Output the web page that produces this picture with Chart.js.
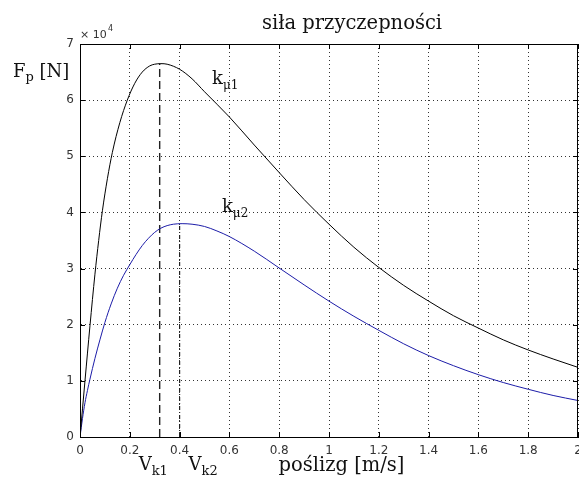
<!DOCTYPE html>
<html>
<head>
<meta charset="utf-8">
<script src="https://cdn.jsdelivr.net/npm/chart.js@4"></script>
<style>
  html, body { margin: 0; padding: 0; background: #fff; }
  #wrap { width: 579px; height: 479px; }
</style>
</head>
<body>
<div id="wrap"><canvas id="c" width="579" height="479"></canvas></div>
<script>
// Adhesion force vs. slip for two adhesion coefficients
const slip1 = [0, 0.02, 0.04, 0.06, 0.075, 0.09, 0.11, 0.13, 0.16, 0.19, 0.22, 0.25, 0.28, 0.3, 0.325, 0.35, 0.4, 0.45, 0.5, 0.6, 0.7, 0.8, 0.9, 1.0, 1.1, 1.2, 1.3, 1.4, 1.5, 1.6, 1.7, 1.8, 1.9, 2.0];
const fp1 = [0, 10000, 19800, 29000, 35000, 40300, 46000, 50700, 56000, 60000, 63000, 65000, 66100, 66400, 66500, 66400, 65500, 63800, 61500, 57000, 52000, 47100, 42300, 37900, 33800, 30200, 27000, 24200, 21600, 19400, 17300, 15500, 13900, 12400];

const slip2 = [0, 0.01, 0.02, 0.03, 0.04, 0.06, 0.08, 0.1, 0.125, 0.15, 0.175, 0.2, 0.225, 0.25, 0.275, 0.3, 0.325, 0.35, 0.375, 0.41, 0.45, 0.5, 0.55, 0.6, 0.7, 0.8, 0.9, 1.0, 1.1, 1.2, 1.3, 1.4, 1.5, 1.6, 1.7, 1.8, 1.9, 2.0];
const fp2 = [0, 3300, 6100, 8300, 10300, 14000, 17300, 20400, 23700, 26500, 28800, 30700, 32500, 34100, 35400, 36450, 37200, 37650, 37900, 38000, 37900, 37500, 36700, 35700, 33100, 30100, 27100, 24200, 21500, 19000, 16600, 14500, 12700, 11100, 9700, 8500, 7400, 6500];

// critical slip speeds and the peak forces they mark
const vCrit = [0.32, 0.40];
const fCrit = [66500, 38000];

const xTicks = [0, 0.2, 0.4, 0.6, 0.8, 1, 1.2, 1.4, 1.6, 1.8, 2];
const yTicks = [0, 10000, 20000, 30000, 40000, 50000, 60000, 70000];

const titleText = 'siła przyczepności';
const xLabel = 'poślizg [m/s]';

const toXY = (xs, ys) => xs.map((x, i) => ({ x: x, y: ys[i] }));

const SERIF = '"DejaVu Serif", "Liberation Serif", serif';
const SANS = '"DejaVu Sans", "Liberation Sans", sans-serif';

function subText(ctx, base, sub, x, y, size, subSize, drop) {
  ctx.font = size + 'px ' + SERIF;
  ctx.fillText(base, x, y);
  const w = ctx.measureText(base).width;
  ctx.font = subSize + 'px ' + SERIF;
  ctx.fillText(sub, x + w, y + drop);
  return x + w + ctx.measureText(sub).width;
}

const decor = {
  id: 'decor',
  afterDraw(chart) {
    const ctx = chart.ctx;
    const a = chart.chartArea;
    const xs = chart.scales.x, ys = chart.scales.y;
    ctx.save();
    // box frame
    ctx.strokeStyle = '#000';
    ctx.lineWidth = 1;
    ctx.setLineDash([]);
    ctx.strokeRect(a.left + 0.5, a.top + 0.5, a.right - a.left - 1, a.bottom - a.top);
    // inward tick marks on all four sides
    ctx.beginPath();
    xTicks.forEach(v => {
      const px = Math.round(xs.getPixelForValue(v)) + 0.5;
      ctx.moveTo(px, a.bottom); ctx.lineTo(px, a.bottom - 5);
      ctx.moveTo(px, a.top); ctx.lineTo(px, a.top + 5);
    });
    yTicks.forEach(v => {
      const py = Math.round(ys.getPixelForValue(v)) + 0.5;
      ctx.moveTo(a.left, py); ctx.lineTo(a.left + 5, py);
      ctx.moveTo(a.right, py); ctx.lineTo(a.right - 5, py);
    });
    ctx.stroke();

    ctx.fillStyle = '#111';
    ctx.textBaseline = 'alphabetic';

    // title and x-axis label
    ctx.font = '19.5px ' + SERIF;
    ctx.textAlign = 'center';
    ctx.fillText(titleText, 352, 29);
    ctx.fillText(xLabel, 341.5, 471);
    ctx.textAlign = 'left';

    // exponent marker
    ctx.fillStyle = '#333';
    ctx.font = '11px ' + SANS;
    ctx.fillText('× 10', 80, 38);
    ctx.font = '8px ' + SANS;
    ctx.fillText('4', 108, 31);
    ctx.fillStyle = '#111';

    // y-axis label
    const e = subText(ctx, 'F', 'p', 13, 77, 18, 13, 4);
    ctx.font = '18px ' + SERIF;
    ctx.fillText(' [N]', e, 77);

    // curve labels
    subText(ctx, 'k', 'μ1', xs.getPixelForValue(0.53), ys.getPixelForValue(62800), 18, 12, 5);
    subText(ctx, 'k', 'μ2', xs.getPixelForValue(0.57), ys.getPixelForValue(40000), 18, 12, 5);

    // critical slip labels under the axis
    subText(ctx, 'V', 'k1', xs.getPixelForValue(vCrit[0]) - 21, 470, 18, 13, 5);
    subText(ctx, 'V', 'k2', xs.getPixelForValue(vCrit[1]) + 9, 470, 18, 13, 5);
    ctx.restore();
  }
};

new Chart(document.getElementById('c'), {
  type: 'scatter',
  data: {
    datasets: [
      {
        data: toXY(slip1, fp1),
        showLine: true, borderColor: '#000', borderWidth: 1,
        pointRadius: 0, cubicInterpolationMode: 'monotone', order: 1
      },
      {
        data: toXY(slip2, fp2),
        showLine: true, borderColor: '#1c1ca8', borderWidth: 1,
        pointRadius: 0, cubicInterpolationMode: 'monotone', order: 1
      },
      {
        data: [{ x: vCrit[0], y: 0 }, { x: vCrit[0], y: fCrit[0] }],
        showLine: true, borderColor: '#222', borderWidth: 1.4,
        borderDash: [8, 4], pointRadius: 0, order: 2
      },
      {
        data: [{ x: vCrit[1], y: 0 }, { x: vCrit[1], y: fCrit[1] }],
        showLine: true, borderColor: '#222', borderWidth: 1.2,
        borderDash: [4, 2, 1, 2], pointRadius: 0, order: 2
      }
    ]
  },
  options: {
    responsive: false,
    animation: false,
    devicePixelRatio: 1,
    layout: { padding: { left: 0, right: 1, top: 44, bottom: 0 } },
    plugins: { legend: { display: false }, tooltip: { enabled: false }, title: { display: false } },
    scales: {
      x: {
        type: 'linear', min: 0, max: 2,
        afterFit: s => { s.height = 42; s.paddingLeft = 0; s.paddingRight = 0; },
        afterBuildTicks: s => { s.ticks = xTicks.map(v => ({ value: v })); },
        grid: { color: '#333', lineWidth: 1, drawTicks: false },
        border: { display: true, color: '#000', dash: [1, 3] },
        ticks: {
          padding: 7, color: '#333', font: { family: SANS, size: 12 },
          maxRotation: 0, autoSkip: false,
          callback: v => String(v)
        }
      },
      y: {
        type: 'linear', min: 0, max: 70000,
        afterFit: s => { s.width = 80; s.paddingTop = 0; s.paddingBottom = 0; },
        afterBuildTicks: s => { s.ticks = yTicks.map(v => ({ value: v })); },
        grid: { color: '#333', lineWidth: 1, drawTicks: false },
        border: { display: true, color: '#000', dash: [1, 3] },
        ticks: {
          padding: 6, color: '#333', font: { family: SANS, size: 12 },
          autoSkip: false,
          callback: v => String(v / 10000)
        }
      }
    }
  },
  plugins: [decor]
});
</script>
</body>
</html>
